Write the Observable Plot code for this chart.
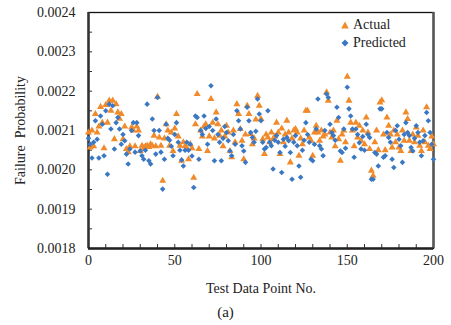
<!DOCTYPE html>
<html><head><meta charset="utf-8">
<script src="https://cdn.jsdelivr.net/npm/d3@7"></script>
<script src="https://cdn.jsdelivr.net/npm/@observablehq/plot@0.6"></script>
<style>
body{margin:0;background:#fff;}
#wrap{position:relative;width:451px;height:325px;font-family:"Liberation Serif","Times New Roman",serif;color:#222;}
#legend{position:absolute;left:341px;top:16px;font-size:14px;line-height:18px;}
#legend div{display:flex;align-items:center;gap:4px;}
#caption{position:absolute;left:0;width:451px;top:303px;text-align:center;font-size:15px;line-height:18px;}
#chart svg text{font-family:"Liberation Serif","Times New Roman",serif;}
</style></head><body>
<div id="wrap"><div id="chart"></div><div id="legend"></div><div id="caption">(a)</div></div>
<script>
const seriesNames = ["Actual", "Predicted"];
const seriesColors = ["#F08A2A", "#3B78C3"];
const xTickLabels = [0, 50, 100, 150, 200];
const yTickLabels = [0.0018, 0.0019, 0.002, 0.0021, 0.0022, 0.0023, 0.0024];

const actual = [
0.002095,0.002057,0.002100,0.002060,0.002142,0.002095,0.002110,0.002160,0.002120,0.002055,
0.002165,0.002120,0.002176,0.002150,0.002176,0.002078,0.002167,0.002146,0.002130,0.002142,
0.002078,0.002110,0.002053,0.002045,0.002060,0.002108,0.002100,0.002060,0.002110,0.002100,
0.002048,0.002061,0.002055,0.002060,0.002061,0.002058,0.002065,0.002061,0.002087,0.002060,
0.002186,0.002082,0.002061,0.001972,0.002080,0.002116,0.002100,0.002061,0.002095,0.002048,
0.002105,0.002142,0.002085,0.002061,0.002023,0.002070,0.002060,0.002055,0.002027,0.002065,
0.002055,0.001980,0.002116,0.002193,0.002053,0.002100,0.002085,0.002110,0.002116,0.002048,
0.002085,0.002180,0.002120,0.002080,0.002146,0.002116,0.002087,0.002100,0.002060,0.002085,
0.002112,0.002095,0.002048,0.002032,0.002100,0.002070,0.002167,0.002142,0.002104,0.002074,
0.002027,0.002090,0.002163,0.002142,0.002091,0.002065,0.002080,0.002128,0.002188,0.002163,
0.002129,0.002078,0.002040,0.002090,0.002082,0.002070,0.002095,0.002078,0.002085,0.002120,
0.002095,0.002040,0.002105,0.002070,0.002090,0.002125,0.002095,0.002019,0.002080,0.002100,
0.002104,0.002095,0.002036,0.002080,0.002065,0.002100,0.002150,0.002150,0.002082,0.002074,
0.002036,0.002095,0.002112,0.002095,0.002074,0.002100,0.002085,0.002090,0.002197,0.002176,
0.002095,0.002082,0.002100,0.002060,0.002125,0.002078,0.002023,0.002090,0.002100,0.002070,
0.002237,0.002176,0.002120,0.002100,0.002060,0.002120,0.002082,0.002112,0.002074,0.002100,
0.002065,0.002133,0.002095,0.002053,0.001998,0.001985,0.002070,0.002100,0.002050,0.002171,
0.002177,0.002090,0.002050,0.002133,0.002112,0.002090,0.002057,0.002100,0.002070,0.002090,
0.002057,0.002048,0.002100,0.002074,0.002146,0.002129,0.002074,0.002048,0.002090,0.002070,
0.002108,0.002087,0.002061,0.002048,0.002100,0.002070,0.002159,0.002061,0.002053,0.002085,
0.002065];

const predicted = [
0.002080,0.002065,0.002030,0.002070,0.002125,0.002078,0.002030,0.002137,0.002116,0.002036,
0.002150,0.001989,0.002167,0.002104,0.002163,0.002053,0.002120,0.002133,0.002104,0.002065,
0.002090,0.002074,0.002040,0.002015,0.002053,0.002100,0.002120,0.002045,0.002120,0.002087,
0.002048,0.002036,0.002027,0.002050,0.002167,0.002023,0.002015,0.002129,0.002100,0.002040,
0.002184,0.002100,0.002045,0.001951,0.002027,0.002116,0.002080,0.002075,0.002060,0.002036,
0.002090,0.002120,0.002070,0.002050,0.002025,0.002010,0.002050,0.002070,0.002050,0.002065,
0.002035,0.001955,0.002137,0.002133,0.002027,0.002100,0.002090,0.002137,0.002105,0.002065,
0.002110,0.002214,0.002100,0.002023,0.002129,0.002090,0.002070,0.002023,0.002080,0.002110,
0.002095,0.002074,0.002048,0.002036,0.002090,0.002065,0.002150,0.002125,0.002104,0.002061,
0.002048,0.002019,0.002159,0.002125,0.002095,0.002082,0.002070,0.002098,0.002180,0.002142,
0.002125,0.002070,0.002053,0.002057,0.002150,0.002070,0.002061,0.002002,0.002075,0.002087,
0.002070,0.002044,0.001993,0.002078,0.002060,0.002082,0.002074,0.002044,0.001976,0.002070,
0.002087,0.002061,0.002010,0.001981,0.002050,0.002075,0.002120,0.002090,0.002070,0.002027,
0.002023,0.002065,0.002104,0.002180,0.002061,0.002053,0.002036,0.002100,0.002193,0.002184,
0.002116,0.002095,0.002087,0.002075,0.002159,0.002133,0.002048,0.002044,0.002104,0.002055,
0.002210,0.002155,0.002137,0.002104,0.002032,0.002104,0.002090,0.002069,0.002053,0.002085,
0.002050,0.002116,0.002090,0.002082,0.001976,0.001976,0.002044,0.002040,0.002010,0.002155,
0.002155,0.002032,0.002036,0.002095,0.002082,0.002070,0.002027,0.002006,0.002100,0.002112,
0.002078,0.002061,0.002019,0.002090,0.002120,0.002095,0.002087,0.002057,0.002048,0.002080,
0.002112,0.002095,0.002070,0.002036,0.002074,0.002087,0.002146,0.002125,0.002095,0.002065,
0.002027];

const pointNo = actual.map((_, i) => i);
const actualData = pointNo.map(i => ({x: i, y: actual[i]}));
const predictedData = pointNo.map(i => ({x: i, y: predicted[i]}));
const xMinor = d3.range(0, 201, 10);
const yMinor = d3.range(0, 13).map(i => yTickLabels[0] + i * 0.00005);

const font = '"Liberation Serif","Times New Roman",serif';
const chart = Plot.plot({
  width: 451, height: 300,
  marginLeft: 88, marginRight: 18, marginTop: 12, marginBottom: 52,
  style: {fontFamily: font, fontSize: "14px", color: "#222", background: "#fff"},
  x: {domain: [0, 200]},
  y: {domain: [0.0018, 0.0024]},
  marks: [
    Plot.axisX(xMinor, {tickSize: -4, tickFormat: () => "", stroke: "#333", label: null}),
    Plot.axisX(xTickLabels, {tickSize: 0, tickPadding: 7, tickFormat: d => String(d), fontSize: 14, fontFamily: font,
      label: "Test Data Point No.", labelAnchor: "center", labelArrow: "none", labelOffset: 44}),
    Plot.axisY(yMinor, {tickSize: -4, tickFormat: () => "", stroke: "#333", label: null}),
    Plot.axisY(yTickLabels, {tickSize: 0, tickPadding: 13, tickFormat: d3.format(".4f"), fontSize: 14, fontFamily: font,
      label: "Failure  Probability", labelAnchor: "center", labelArrow: "none", labelOffset: 73}),
    Plot.frame({stroke: "#111", strokeWidth: 1.3}),
    Plot.ruleX([0], {stroke: "#333", strokeWidth: 2.5}),
    Plot.ruleX([200], {stroke: "#555", strokeWidth: 2.5}),
    Plot.ruleY([0.0018], {stroke: "#222", strokeWidth: 2.5}),
    Plot.dot(actualData, {x: "x", y: "y", symbol: "triangle", r: 2.6, fill: seriesColors[0], stroke: "none"}),
    Plot.dot(predictedData, {x: "x", y: "y", symbol: "diamond2", r: 2.5, fill: seriesColors[1], stroke: "none"})
  ]
});
document.getElementById("chart").appendChild(chart);

const legend = document.getElementById("legend");
const shapes = [
  '<svg width="8" height="8"><polygon points="4,0.5 7.8,7.5 0.2,7.5" fill="' + seriesColors[0] + '"/></svg>',
  '<svg width="8" height="8"><polygon points="4,0.5 7.5,4 4,7.5 0.5,4" fill="' + seriesColors[1] + '"/></svg>'
];
seriesNames.forEach((name, i) => {
  const row = document.createElement("div");
  row.innerHTML = shapes[i] + '<span>' + name + '</span>';
  legend.appendChild(row);
});
</script>
</body></html>
